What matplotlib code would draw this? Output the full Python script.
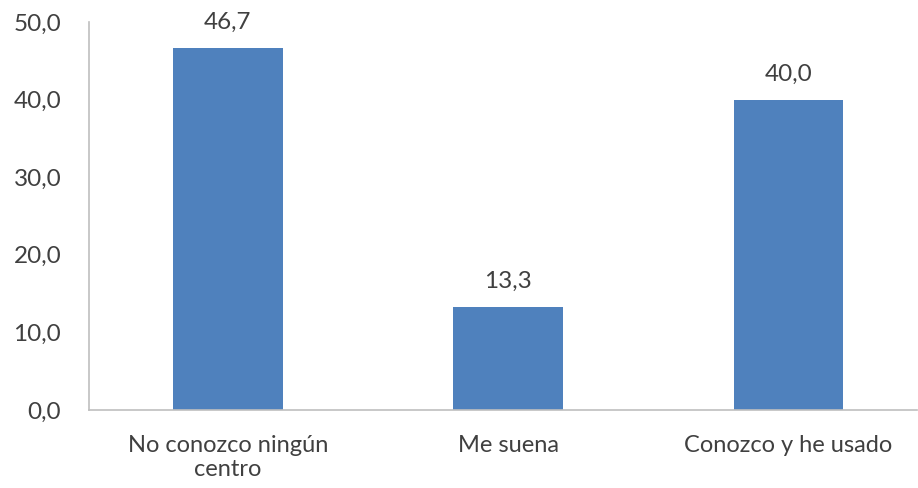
import matplotlib
matplotlib.use("Agg")
import matplotlib.pyplot as plt

categories = ["No conozco ningún\ncentro", "Me suena", "Conozco y he usado"]
values = [46.7, 13.3, 40.0]
yticks = [0, 10, 20, 30, 40, 50]

plt.rcParams['font.family'] = ['Lato', 'DejaVu Sans']
text_color = '#404040'

fig = plt.figure(figsize=(9.18, 4.88), dpi=100)
ax = fig.add_axes([89/918, 78/488, 828/918, 388/488])

x = list(range(len(categories)))
bars = ax.bar(x, values, width=0.39, color='#4F81BD', zorder=2)
for xi, v in zip(x, values):
    ax.text(xi, v + 1.9, f"{v:.1f}".replace('.', ','), ha='center', va='bottom',
            fontsize=17.5, color=text_color)

ax.set_xlim(-0.496, 2.46)
ax.set_ylim(0, 50)
ax.set_yticks(yticks)
ax.set_yticklabels([f"{t:.1f}".replace('.', ',') for t in yticks], fontsize=17.5, color=text_color)
ax.set_xticks(x)
ax.set_xticklabels(categories, fontsize=17, color=text_color, linespacing=1.2)
for lbl in ax.get_xticklabels():
    lbl.set_multialignment('center')
ax.tick_params(axis='both', length=0)
ax.tick_params(axis='y', pad=20)
ax.tick_params(axis='x', pad=18)
for s in ['top', 'right']:
    ax.spines[s].set_visible(False)
for s in ['left', 'bottom']:
    ax.spines[s].set_color('#BFBFBF')
    ax.spines[s].set_linewidth(1.2)

fig.savefig('out.png', dpi=100)
